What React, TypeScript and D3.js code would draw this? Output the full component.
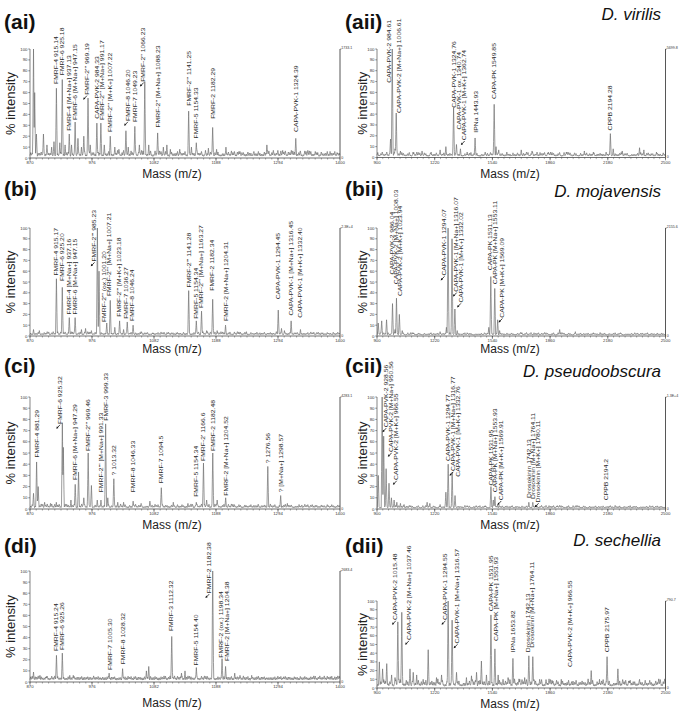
import React from "react";
import * as d3 from "d3";

type Peak = [number, number];
type Label = [number, number, string, number?];

const leftTicks = [870, 976, 1082, 1188, 1294, 1400];
const rightTicks = [900, 1220, 1540, 1860, 2180, 2500];
const yTicks = [0, 10, 20, 30, 40, 50, 60, 70, 80, 90, 100];

const noisePattern = [
  0.6, 0.3, 0.9, 0.4, 0.7, 0.2, 1.0, 0.5, 0.3, 0.8,
  0.4, 0.6, 0.2, 0.9, 0.5, 0.7, 0.3, 0.4, 1.0, 0.6,
  0.2, 0.8, 0.5, 0.3, 0.7, 0.9, 0.4, 0.6, 0.2, 0.5,
  0.8, 0.3, 0.7, 0.4, 1.0, 0.5, 0.2, 0.6, 0.9, 0.3,
  0.7, 0.4, 0.5, 0.8, 0.2, 0.6, 0.3, 0.9, 0.5, 0.7,
  0.4, 0.2, 0.8, 0.6, 0.3, 1.0, 0.5, 0.4, 0.7, 0.2,
  0.9, 0.6, 0.3, 0.5, 0.8, 0.4, 0.7, 0.2, 0.6, 0.9,
  0.3, 0.5, 0.4, 0.8, 0.2, 0.7, 0.6, 1.0, 0.3, 0.5,
  0.4, 0.9, 0.2, 0.7, 0.5, 0.3, 0.8, 0.6, 0.4, 0.2,
  0.9, 0.5, 0.7, 0.3, 0.6, 1.0, 0.4, 0.2, 0.8, 0.5,
];

// ---------- (ai) D. virilis, 870-1400 ----------
const aiPeaks: Peak[] = [
  [876, 100], [878, 60], [881, 22], [893, 22], [899, 12], [907, 10], [911, 15],
  [915.14, 64], [921, 14], [925.18, 72], [930, 12], [937.13, 22], [941, 12],
  [947.15, 33], [952, 18], [958, 10], [962, 20], [969.19, 55], [973, 12],
  [984.33, 32], [991.17, 32], [997, 12], [1007.22, 20], [1015, 10], [1022, 8],
  [1034, 25], [1038, 10], [1049.23, 29], [1057, 12], [1066.23, 70], [1073, 12],
  [1088.23, 23], [1098, 10], [1104, 12], [1110, 8], [1126, 8], [1141.25, 43],
  [1146, 10], [1154.33, 14], [1170, 7], [1175, 9], [1182.29, 28], [1189, 8],
  [1205, 10], [1229, 6], [1252, 5], [1275, 12], [1302, 7], [1324.39, 18],
  [1342, 6], [1362, 5], [1383, 6], [1395, 5],
];
const aiLabels: Label[] = [
  [915.14, 67, "FMRF-4 915.14"],
  [925.18, 75, "FMRF-6 925.18"],
  [937.13, 24, "FMRF-4 [M+Na+] 937.13"],
  [947.15, 34, "FMRF-6 [M+Na+] 947.15"],
  [967, 57, "FMRF-2''' 969.19", 1],
  [984.33, 35, "CAPA-PVK-2 984.33"],
  [993, 34, "FMRF-2''' [M+Na+] 991.17"],
  [1007.22, 23, "FMRF-2''' [M+K+] 1007.22"],
  [1037, 33, "FMRF-8 1046.20", 1],
  [1050, 32, "FMRF-7 1049.23"],
  [1064, 69, "FMRF-2'' 1066.23", 1],
  [1088.23, 27, "FMRF-2'' [M+Na+] 1088.23"],
  [1141.25, 47, "FMRF-2''' 1141.25"],
  [1154.33, 17, "FMRF-5 1154.33"],
  [1182.29, 35, "FMRF-2 1182.29"],
  [1324.39, 23, "CAPA-PVK-1 1324.39"],
];

// ---------- (aii) D. virilis, 900-2500 ----------
const aiiPeaks: Peak[] = [
  [975, 17], [984.61, 100], [1000, 8], [1006.61, 41], [1030, 6], [1100, 5],
  [1150, 6], [1200, 5], [1250, 7], [1282, 10], [1324.76, 46], [1340.74, 12],
  [1362.74, 8], [1400, 5], [1443.93, 18], [1500, 5], [1549.85, 49], [1560, 10],
  [1575, 7], [1620, 5], [1700, 7], [1760, 6], [1850, 5], [1950, 5], [2050, 6],
  [2100, 5], [2194.28, 22], [2210, 8], [2260, 6], [2356, 9], [2380, 7], [2450, 5],
];
const aiiLabels: Label[] = [
  [968, 68, "CAPA-PVK-2 984.61"],
  [1024, 40, "CAPA-PVK-2 [M+Na+] 1006.61"],
  [1328, 45, "CAPA-PVK-1 1324.76"],
  [1354, 25, "CAPA-PVK-1 ox. 1340.74"],
  [1385, 15, "CAPA-PVK-1 [M+K+] 1362.74", 1],
  [1452, 22, "IPNa 1443.93"],
  [1549, 53, "CAPA-PK 1549.85"],
  [2193, 24, "CPPB 2194.28"],
];

// ---------- (bi) D. mojavensis, 870-1400 ----------
const biPeaks: Peak[] = [
  [876, 6], [886, 5], [900, 3], [915.17, 53], [925.2, 45], [937.16, 17],
  [947.15, 17], [958, 6], [965, 7], [975, 5], [985.23, 100], [988, 60],
  [1001.2, 12], [1007.21, 33], [1015, 8], [1023.18, 14], [1030, 6],
  [1036.27, 13], [1046.24, 10], [1060, 4], [1080, 3], [1120, 3], [1141.28, 42],
  [1154.34, 14], [1163.27, 23], [1172, 5], [1182.34, 34], [1190, 5],
  [1204.31, 10], [1220, 3], [1240, 4], [1294.45, 24], [1300, 7], [1305, 5],
  [1316.45, 14], [1332.4, 6], [1350, 3], [1380, 2],
];
const biLabels: Label[] = [
  [915.17, 55, "FMRF-4 915.17"],
  [925.2, 50, "FMRF-6 925.20"],
  [937.16, 19, "FMRF-4 [M+Na+] 937.16"],
  [947.15, 19, "FMRF-6 [M+Na+] 947.15"],
  [980, 68, "FMRF-2''' 985.23", 1],
  [996, 12, "FMRF-2''' (ox.) 1001.20"],
  [1006, 36, "FMRF-2''' [M+Na+] 1007.21"],
  [1022, 17, "FMRF-2''' [M+K+] 1023.18"],
  [1035, 15, "FMRF-7 1036.27"],
  [1045, 13, "FMRF-8 1046.24"],
  [1141.28, 44, "FMRF-2''' 1141.28"],
  [1154.34, 15, "FMRF-5 1154.34"],
  [1163.27, 25, "FMRF-2''' [M+Na+] 1163.27"],
  [1181, 41, "FMRF-2 1182.34"],
  [1205, 13, "FMRF-2 [M+Na+] 1204.31"],
  [1294.45, 33, "CAPA-PVK-1 1294.45"],
  [1316.45, 18, "CAPA-PVK-1 [M+Na+] 1316.45"],
  [1331, 16, "CAPA-PVK-1 [M+K+] 1332.40"],
];

// ---------- (bii) D. mojavensis, 900-2500 ----------
const biiPeaks: Peak[] = [
  [907, 12], [926, 14], [953, 15], [986.04, 30], [1000, 6], [1008.03, 35],
  [1023.94, 20], [1040, 5], [1100, 3], [1200, 3], [1250, 4], [1285, 8],
  [1294.07, 100], [1316.07, 90], [1332.02, 25], [1345, 5], [1400, 3],
  [1520, 8], [1531.13, 55], [1553.11, 44], [1569.09, 15], [1580, 5],
  [1700, 3], [1913, 6], [2000, 4], [2100, 3], [2250, 3], [2400, 3],
];
const biiLabels: Label[] = [
  [986, 56, "CAPA-PVK-2 986.04"],
  [1008, 47, "CAPA-PVK-2 [M+Na+] 1008.03"],
  [1030, 36, "CAPA-PVK-2 [M+K+] 1023.94"],
  [1273, 55, "CAPA-PVK-1 1294.07", 1],
  [1341, 40, "CAPA-PVK-1 [M+Na+] 1316.07", 1],
  [1364, 30, "CAPA-PVK-1 [M+K+] 1332.02", 1],
  [1529, 60, "CAPA-PK 1531.13"],
  [1553, 47, "CAPA-PK [M+Na+] 1553.11"],
  [1594, 16, "CAPA-PK [M+K+] 1569.09", 1],
];

// ---------- (ci) D. pseudoobscura, 870-1400 ----------
const ciPeaks: Peak[] = [
  [876, 14], [881.29, 42], [884, 20], [895, 6], [905, 5], [915, 6],
  [925.32, 77], [927, 55], [940, 8], [947.29, 22], [953, 33], [962, 10],
  [969.46, 50], [975, 21], [985, 8], [991.33, 8], [999.33, 76], [1003, 10],
  [1013.32, 27], [1020, 6], [1030, 6], [1046.33, 7], [1060, 5], [1075, 7],
  [1094.5, 19], [1115, 6], [1140, 5], [1154.34, 6], [1166.6, 41], [1172, 8],
  [1182.48, 50], [1190, 8], [1204.52, 10], [1215, 4], [1240, 3], [1260, 4],
  [1276.56, 38], [1298.57, 12], [1310, 5], [1330, 4], [1360, 3], [1380, 3],
];
const ciLabels: Label[] = [
  [881.29, 45, "FMRF-4 881.29"],
  [921, 75, "FMRF-6 925.32", 1],
  [947.29, 25, "FMRF-6 [M+Na+] 947.29"],
  [969.46, 51, "FMRF-2''' 969.46"],
  [991.33, 14, "FMRF-2''' [M+Na+] 991.33"],
  [999.33, 78, "FMRF-3 999.33"],
  [1013.32, 29, "? 1013.32"],
  [1046.33, 14, "FMRF-8 1046.33"],
  [1094.5, 22, "FMRF-7 1094.5"],
  [1154.34, 10, "FMRF-5 1154.34"],
  [1166.6, 42, "FMRF-2' 1166.6"],
  [1183, 51, "FMRF-2 1182.48"],
  [1205, 11, "FMRF-2 [M+Na+] 1204.52"],
  [1276.56, 40, "? 1276.56"],
  [1298.57, 14, "? [M+Na+] 1298.57"],
];

// ---------- (cii) D. pseudoobscura, 900-2500 ----------
const ciiPeaks: Peak[] = [
  [907, 30], [928.56, 100], [937, 65], [950.56, 36], [966.55, 23], [980, 10],
  [995, 8], [1010, 6], [1030, 5], [1050, 4], [1080, 3], [1178, 6], [1193, 5],
  [1250, 4], [1282, 15], [1294.77, 40], [1316.77, 33], [1332.76, 12],
  [1400, 3], [1450, 3], [1500, 3], [1531.95, 20], [1545, 8], [1553.93, 11],
  [1569.91, 4], [1650, 3], [1742.13, 6], [1764.11, 6], [1780.11, 3],
  [1900, 3], [2000, 2], [2194.2, 3],
];
const ciiLabels: Label[] = [
  [950, 72, "CAPA-PVK-2 928.56", 1],
  [980, 50, "CAPA-PVK-2 [M+Na+] 950.56", 1],
  [1008, 25, "CAPA-PVK-2 [M+K+] 966.55", 1],
  [1292, 42, "CAPA-PVK-1 1294.77"],
  [1322, 33, "CAPA-PVK-1 [M+Na+] 1316.77", 1],
  [1348, 28, "CAPA-PVK-1 [M+K+] 1332.76"],
  [1531, 20, "CAPA-PK 1531.95"],
  [1557, 14, "CAPA-PK [M+Na+] 1553.93"],
  [1588, 7, "CAPA-PK [M+K+] 1569.91", 1],
  [1741, 9, "Drosokinin 1742.13"],
  [1765, 8, "Drosokinin [M+Na+] 1764.11"],
  [1795, 5, "Drosokinin [M+K+] 1780.11", 1],
  [2171, 7, "CPPB 2194.2"],
];

// ---------- (di) D. sechellia, 870-1400 ----------
const diPeaks: Peak[] = [
  [876, 9], [887, 6], [898, 5], [915.24, 24], [925.26, 26], [938, 6], [944, 6],
  [961, 4], [990, 4], [1005.3, 8], [1028.32, 12], [1069, 10], [1073, 14],
  [1112.32, 41], [1129, 8], [1135, 10], [1154.4, 13], [1182.38, 100],
  [1198.34, 21], [1204.38, 14], [1220, 8], [1229, 6], [1249, 6], [1275, 4],
  [1303, 4], [1332, 3],
];
const diLabels: Label[] = [
  [915.24, 27, "FMRF-4 915.24"],
  [925.26, 28, "FMRF-6 925.26"],
  [1007, 10, "FMRF-7 1005.30"],
  [1028.32, 15, "FMRF-8 1028.32"],
  [1111, 45, "FMRF-3 1112.32"],
  [1154.4, 14, "FMRF-5 1154.40"],
  [1176, 79, "FMRF-2 1182.38", 1],
  [1196, 21, "FMRF-2 (ox.) 1198.34"],
  [1207, 18, "FMRF-2 [M+Na+] 1204.38"],
];

// ---------- (dii) D. sechellia, 900-2500 ----------
const diiPeaks: Peak[] = [
  [913, 30], [931, 22], [954, 28], [981, 15], [1000, 12], [1015.48, 76],
  [1037.46, 87], [1083, 22], [1101, 18], [1120, 15], [1156, 10], [1184, 44],
  [1230, 12], [1258, 15], [1294.55, 100], [1316.57, 78], [1341, 18],
  [1396, 12], [1424, 14], [1452, 18], [1479, 31], [1507, 15], [1531.95, 84],
  [1553.93, 45], [1572, 15], [1599, 10], [1627, 12], [1653.82, 34],
  [1692, 10], [1719, 12], [1742.13, 37], [1764.11, 36], [1802, 10],
  [1876, 8], [1922, 10], [1987, 8], [2088, 20], [2134, 10], [2175.97, 36],
  [2236, 22], [2300, 8], [2356, 10], [2448, 6], [2485, 5],
];
const diiLabels: Label[] = [
  [1003, 77, "CAPA-PVK-2 1015.48", 1],
  [1076, 54, "CAPA-PVK-2 [M+Na+] 1037.46", 1],
  [1278, 77, "CAPA-PVK-1 1294.55", 1],
  [1345, 50, "CAPA-PVK-1 [M+Na+] 1316.57", 1],
  [1535, 87, "CAPA-PK 1531.95"],
  [1562, 53, "CAPA-PK [M+Na+] 1553.93"],
  [1655, 40, "IPNa 1653.82"],
  [1738, 40, "Drosokinin 1742.13"],
  [1762, 45, "Drosokinin [M+Na+] 1764.11"],
  [1972, 23, "CAPA-PVK-2 [M+K+] 966.55"],
  [2175, 40, "CPPB 2175.97"],
];

const FONT = "'Liberation Sans', Arial, Helvetica, sans-serif";

interface PanelDef {
  id: string;
  side: "L" | "R";
  species?: string;
  speciesY?: number;
  peaks: Peak[];
  labels: Label[];
  top: number;
  bot: number;
  rightLabel: string;
  titleY: number;
  massY: number;
  noise: [number, number, number];
}

const panels: PanelDef[] = [
  { id: "(ai)", side: "L", peaks: aiPeaks, labels: aiLabels, top: 49, bot: 158, rightLabel: "1733.1", titleY: 29, massY: 177.5, noise: [2, 5, 0] },
  { id: "(aii)", side: "R", species: "D. virilis", speciesY: 20, peaks: aiiPeaks, labels: aiiLabels, top: 49, bot: 157.5, rightLabel: "5699.8", titleY: 29, massY: 177.5, noise: [1.5, 3.5, 13] },
  { id: "(bi)", side: "L", peaks: biPeaks, labels: biLabels, top: 228, bot: 336, rightLabel: "2.3E+4", titleY: 196, massY: 353, noise: [1.5, 2.5, 29] },
  { id: "(bii)", side: "R", species: "D. mojavensis", speciesY: 197, peaks: biiPeaks, labels: biiLabels, top: 228, bot: 336, rightLabel: "2155.6", titleY: 196, massY: 353, noise: [1.2, 2, 41] },
  { id: "(ci)", side: "L", peaks: ciPeaks, labels: ciLabels, top: 397, bot: 509, rightLabel: "4283.1", titleY: 373, massY: 529, noise: [1.5, 3, 57] },
  { id: "(cii)", side: "R", species: "D. pseudoobscura", speciesY: 377, peaks: ciiPeaks, labels: ciiLabels, top: 397, bot: 509, rightLabel: "1.3E+4", titleY: 373, massY: 529, noise: [1.2, 2, 71] },
  { id: "(di)", side: "L", peaks: diPeaks, labels: diLabels, top: 571, bot: 682, rightLabel: "2683.4", titleY: 553, massY: 707, noise: [3, 2.5, 83] },
  { id: "(dii)", side: "R", species: "D. sechellia", speciesY: 546, peaks: diiPeaks, labels: diiLabels, top: 601, bot: 688, rightLabel: "790.7", titleY: 553, massY: 708, noise: [2.5, 8, 97] },
];

const sideLayout = {
  L: { x0: 30, x1: 340, domain: [870, 1400] as [number, number], ticks: leftTicks, titleX: 4, ylabX: 15, massX: 172 },
  R: { x0: 377, x1: 665.5, domain: [900, 2500] as [number, number], ticks: rightTicks, titleX: 345, ylabX: 367, massX: 510 },
};

function spectrumPath(p: PanelDef, x: d3.ScaleLinear<number, number>, y: d3.ScaleLinear<number, number>) {
  const L = sideLayout[p.side];
  const [d0, d1] = L.domain;
  const span = d1 - d0;
  const pxW = L.x1 - L.x0;
  const mPerPx = span / pxW;
  const spikes: { m: number; h: number; w: number }[] = [];
  const n = Math.round(pxW / 1.5);
  for (let i = 0; i < n; i++) {
    const m = d0 + ((i + 0.5) * span) / n;
    const v = noisePattern[(i * 7 + p.noise[2]) % noisePattern.length];
    spikes.push({ m, h: p.noise[0] + p.noise[1] * v, w: (span / n) * 0.9 });
  }
  for (const [m, h] of p.peaks) spikes.push({ m, h, w: mPerPx * 0.9 });
  const samples: number[] = [];
  for (let px = 0; px <= pxW; px += 0.35) samples.push(d0 + px * mPerPx);
  for (const s of spikes) samples.push(s.m);
  samples.sort((a, b) => a - b);
  const pts: [number, number][] = samples
    .filter((m) => m >= d0 && m <= d1)
    .map((m) => {
      let h = 0.5 * p.noise[0];
      for (const s of spikes) {
        const d = Math.abs(m - s.m);
        if (d < s.w) {
          const v = s.h * (1 - d / s.w);
          if (v > h) h = v;
        }
      }
      return [m, h];
    });
  return d3
    .line<[number, number]>()
    .x((d) => x(d[0]))
    .y((d) => y(d[1]))(pts) as string;
}

function Panel({ p }: { p: PanelDef }) {
  const L = sideLayout[p.side];
  const x = d3.scaleLinear().domain(L.domain).range([L.x0, L.x1]);
  const y = d3.scaleLinear().domain([0, 100]).range([p.bot, p.top]);
  const step = L.ticks[1] - L.ticks[0];
  const minor = d3.range(L.domain[0], L.domain[1] + 0.001, step / 10);
  const ax = "#333";
  return (
    <g>
      <text x={L.titleX} y={p.titleY} fontSize={21} fontWeight="bold" fontFamily={FONT} fill="#111">
        {p.id}
      </text>
      {p.species && (
        <text x={661} y={p.speciesY} fontSize={17} fontStyle="italic" textAnchor="end" fontFamily={FONT} fill="#111">
          {p.species}
        </text>
      )}
      <text
        transform={`translate(${L.ylabX},${(p.top + p.bot) / 2}) rotate(-90)`}
        fontSize={13}
        textAnchor="middle"
        fontFamily={FONT}
        fill="#222"
      >
        % intensity
      </text>
      <text x={L.massX} y={p.massY} fontSize={12} textAnchor="middle" fontFamily={FONT} fill="#222">
        Mass (m/z)
      </text>

      <path d={spectrumPath(p, x, y)} fill="none" stroke="#707070" strokeWidth={0.7} />

      <line x1={L.x0} x2={L.x0} y1={y(0)} y2={y(100)} stroke={ax} strokeWidth={0.6} />
      {yTicks.map((t) => (
        <g key={"y" + t}>
          <line x1={L.x0 - 1.8} x2={L.x0} y1={y(t)} y2={y(t)} stroke={ax} strokeWidth={0.5} />
          <text x={L.x0 - 2.5} y={y(t) + 1.5} fontSize={4.3} textAnchor="end" fontFamily={FONT} fill="#333">
            {t}
          </text>
        </g>
      ))}
      <line x1={L.x0} x2={L.x1} y1={y(0)} y2={y(0)} stroke={ax} strokeWidth={0.7} />
      {minor.map((t, i) => (
        <line key={"m" + i} x1={x(t)} x2={x(t)} y1={y(0)} y2={y(0) + 1.6} stroke={ax} strokeWidth={0.4} />
      ))}
      {L.ticks.map((t) => (
        <g key={"x" + t}>
          <line x1={x(t)} x2={x(t)} y1={y(0)} y2={y(0) + 2.8} stroke={ax} strokeWidth={0.6} />
          <text x={x(t)} y={y(0) + 6.3} fontSize={4.3} textAnchor="middle" fontFamily={FONT} fill="#333">
            {t}
          </text>
        </g>
      ))}
      <line x1={L.x1} x2={L.x1} y1={y(0)} y2={y(100)} stroke="#444" strokeWidth={0.9} />
      <line x1={L.x1} x2={L.x1 + 1.5} y1={y(100)} y2={y(100)} stroke="#444" strokeWidth={0.5} />
      <text x={L.x1 + 1.2} y={y(100) - 0.3} fontSize={3.6} fontFamily={FONT} fill="#333">
        {p.rightLabel}
      </text>
      <text x={L.x1 + 1.2} y={y(0) + 0.5} fontSize={3.6} fontFamily={FONT} fill="#333">
        0
      </text>

      {p.labels.map(([m, base, text, arrow], i) => {
        const cx = x(m);
        const ly = y(base) - 1;
        return (
          <g key={"l" + i}>
            <text
              transform={`translate(${cx + 1.9},${ly}) rotate(-90) scale(1.24,1)`}
              fontSize={5.5}
              fontFamily={FONT}
              fill="#2a2a2a"
            >
              {text}
            </text>
            {arrow ? (
              <g>
                <path d={`M${cx + 0.2},${ly + 0.8} L${cx - 2.4},${ly + 3.6}`} stroke="#111" strokeWidth={0.8} />
                <path d={`M${cx - 3.6},${ly + 4.8} L${cx - 1.3},${ly + 4.0} L${cx - 2.9},${ly + 2.3} Z`} fill="#111" />
              </g>
            ) : null}
          </g>
        );
      })}
    </g>
  );
}

export default function App() {
  return (
    <svg
      width={685}
      height={718}
      viewBox="0 0 685 718"
      style={{ position: "absolute", left: 0, top: 0, background: "#fff" }}
    >
      <rect x={0} y={0} width={685} height={718} fill="#fff" />
      {panels.map((p) => (
        <Panel key={p.id} p={p} />
      ))}
    </svg>
  );
}
